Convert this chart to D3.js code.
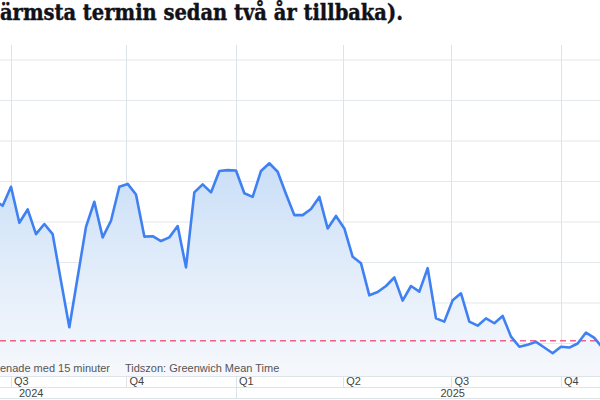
<!DOCTYPE html>
<html>
<head>
<meta charset="utf-8">
<script src="https://cdn.jsdelivr.net/npm/d3@7"></script>
<style>
  html, body { margin: 0; padding: 0; background: #ffffff; }
  svg { display: block; }
</style>
</head>
<body>
<svg id="chart" width="600" height="400"></svg>
<script>
// ---------------- data ----------------
const titleText = "ärmsta termin sedan två år tillbaka).";
const firstWeek = "2024-06-12";           // weekly observations (Wednesdays)
const weeklyValues = [
  2.354, 2.340, 2.387, 2.298, 2.331, 2.270, 2.295, 2.270, 2.154, 2.040,
  2.164, 2.288, 2.350, 2.262, 2.303, 2.387, 2.394, 2.368, 2.264, 2.265,
  2.253, 2.262, 2.290, 2.188, 2.373, 2.393, 2.373, 2.426, 2.428, 2.427,
  2.371, 2.362, 2.426, 2.445, 2.424, 2.369, 2.317, 2.317, 2.332, 2.362,
  2.284, 2.315, 2.284, 2.214, 2.198, 2.119, 2.127, 2.142, 2.163, 2.106,
  2.142, 2.128, 2.186, 2.062, 2.054, 2.107, 2.124, 2.054, 2.044, 2.062,
  2.050, 2.068, 2.017, 1.992, 1.997, 2.004, 1.990, 1.976, 1.992, 1.990,
  2.000, 2.027, 2.014, 1.989
];
const referenceLevel = 2.007;
const gridValues = [2.0, 2.1, 2.2, 2.3, 2.4, 2.5, 2.6, 2.7];
const quarterTickDates = ["2024-06-26", "2024-10-01", "2025-01-01", "2025-04-01", "2025-07-01", "2025-10-01"];
const quarterTickLabels = ["Q3", "Q4", "Q1", "Q2", "Q3", "Q4"];
const yearBoundaryDates = ["2025-01-01"];
const yearLabels = ["2024", "2025"];
const yearLabelDates = ["2024-07-13", "2025-07-02"];
const footerLeft = "enade med 15 minuter";
const footerRight = "Tidszon: Greenwich Mean Time";

// ---------------- setup ----------------
const W = 600, H = 400;
const plotTop = 45, axisTop = 376, axisMid = 387, axisBottom = 398;
const parse = d3.utcParse("%Y-%m-%d");
const start = parse(firstWeek);
const series = weeklyValues.map((v, i) => ({ date: d3.utcDay.offset(start, 7 * i), value: v }));

const x = d3.scaleUtc()
  .domain([parse("2024-06-26"), parse("2025-10-01")])
  .range([11, 561]);
const y = d3.scaleLinear()
  .domain([2.0, 2.7])
  .range([343.5, 60]);

const svg = d3.select("#chart");
svg.append("rect").attr("width", W).attr("height", H).attr("fill", "#ffffff");

const defs = svg.append("defs");
const grad = defs.append("linearGradient")
  .attr("id", "areaGrad")
  .attr("gradientUnits", "userSpaceOnUse")
  .attr("x1", 0).attr("x2", 0)
  .attr("y1", y(2.45)).attr("y2", axisTop);
grad.append("stop").attr("offset", "0%").attr("stop-color", "#c9def7").attr("stop-opacity", 1);
grad.append("stop").attr("offset", "55%").attr("stop-color", "#e4eefa").attr("stop-opacity", 1);
grad.append("stop").attr("offset", "100%").attr("stop-color", "#f6f8fc").attr("stop-opacity", 1);

defs.append("clipPath").attr("id", "plotClip")
  .append("rect").attr("x", 0).attr("y", plotTop).attr("width", W).attr("height", axisTop - plotTop);

// ---------------- title ----------------
svg.append("text")
  .attr("x", 0).attr("y", 20)
  .attr("font-family", "'DejaVu Serif', 'Liberation Serif', serif")
  .attr("font-weight", "bold")
  .attr("font-size", 22.5)
  .attr("fill", "#111118")
  .attr("stroke", "#111118")
  .attr("stroke-width", 0.45)
  .attr("textLength", 403)
  .attr("lengthAdjust", "spacingAndGlyphs")
  .text(titleText);

// ---------------- grid ----------------
const gridColor = "#e3e9ec";
svg.append("g").selectAll("line").data(gridValues).join("line")
  .attr("x1", 0).attr("x2", W)
  .attr("y1", d => y(d)).attr("y2", d => y(d))
  .attr("stroke", gridColor).attr("stroke-width", 1);

const qDates = quarterTickDates.map(parse);
svg.append("g").selectAll("line").data(qDates).join("line")
  .attr("x1", d => Math.round(x(d)) + 0.5).attr("x2", d => Math.round(x(d)) + 0.5)
  .attr("y1", plotTop).attr("y2", axisMid)
  .attr("stroke", "#dde4e7").attr("stroke-width", 1);

svg.append("g").selectAll("line").data(yearBoundaryDates.map(parse)).join("line")
  .attr("x1", d => Math.round(x(d)) + 0.5).attr("x2", d => Math.round(x(d)) + 0.5)
  .attr("y1", axisMid).attr("y2", axisBottom)
  .attr("stroke", "#dde4e7").attr("stroke-width", 1);

// ---------------- area + line ----------------
const g = svg.append("g").attr("clip-path", "url(#plotClip)");
g.append("path").datum(series)
  .attr("fill", "url(#areaGrad)")
  .attr("d", d3.area().x(d => x(d.date)).y0(axisTop).y1(d => y(d.value)));

g.append("line")
  .attr("x1", 0).attr("x2", W)
  .attr("y1", y(referenceLevel)).attr("y2", y(referenceLevel))
  .attr("stroke", "#f0628a").attr("stroke-width", 1.5)
  .attr("stroke-dasharray", "6,4");

g.append("path").datum(series)
  .attr("fill", "none")
  .attr("stroke", "#3f80f2")
  .attr("stroke-width", 2.6)
  .attr("stroke-linejoin", "round")
  .attr("d", d3.line().x(d => x(d.date)).y(d => y(d.value)));

// ---------------- footer ----------------
svg.append("text")
  .attr("x", 0).attr("y", 372)
  .attr("font-family", "'Liberation Sans', Arial, sans-serif")
  .attr("font-size", 11).attr("fill", "#555")
  .attr("textLength", 110).attr("lengthAdjust", "spacingAndGlyphs")
  .text(footerLeft);
svg.append("text")
  .attr("x", 125).attr("y", 372)
  .attr("font-family", "'Liberation Sans', Arial, sans-serif")
  .attr("font-size", 11).attr("fill", "#555")
  .text(footerRight);

// ---------------- axis rows ----------------
[axisTop, axisMid, axisBottom].forEach(yy => {
  svg.append("line").attr("x1", 0).attr("x2", W)
    .attr("y1", yy + 0.5).attr("y2", yy + 0.5)
    .attr("stroke", "#dde4e7").attr("stroke-width", 1);
});

svg.append("g").selectAll("text").data(qDates).join("text")
  .attr("x", d => x(d) + 3).attr("y", 385)
  .attr("font-family", "'Liberation Sans', Arial, sans-serif")
  .attr("font-size", 11).attr("fill", "#444")
  .text((d, i) => quarterTickLabels[i]);

svg.append("g").selectAll("text").data(yearLabelDates.map(parse)).join("text")
  .attr("x", d => x(d)).attr("y", 396.5)
  .attr("text-anchor", "middle")
  .attr("font-family", "'Liberation Sans', Arial, sans-serif")
  .attr("font-size", 11).attr("fill", "#444")
  .text((d, i) => yearLabels[i]);
</script>
</body>
</html>
